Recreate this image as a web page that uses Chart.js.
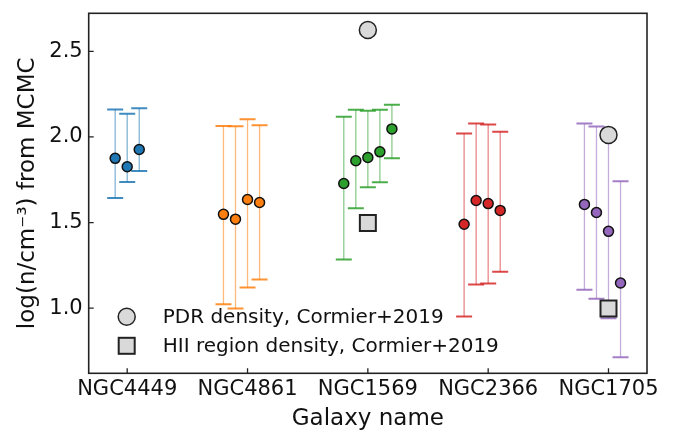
<!DOCTYPE html>
<html>
<head>
<meta charset="utf-8">
<script src="https://cdn.jsdelivr.net/npm/chart.js@4.4.1/dist/chart.umd.min.js"></script>
<style>
  body { margin: 0; background: #fff; }
  #chart { display: block; }
</style>
</head>
<body>
<canvas id="chart" width="673" height="441"></canvas>
<script>
// galaxies along x
const galaxies = ['NGC4449', 'NGC4861', 'NGC1569', 'NGC2366', 'NGC1705'];
const colors = ['#1f77b4', '#ff7f0e', '#2ca02c', '#d62728', '#9467bd'];

// MCMC densities per galaxy (log n), with upper / lower error bar ends
const ngc4449_val = [1.875, 1.826, 1.927];
const ngc4449_hi  = [2.161, 2.136, 2.167];
const ngc4449_lo  = [1.644, 1.737, 1.801];

const ngc4861_val = [1.548, 1.520, 1.635, 1.617];
const ngc4861_hi  = [2.064, 2.062, 2.103, 2.068];
const ngc4861_lo  = [1.023, 0.998, 1.121, 1.168];

const ngc1569_val = [1.728, 1.861, 1.880, 1.913, 2.047];
const ngc1569_hi  = [2.118, 2.159, 2.153, 2.159, 2.188];
const ngc1569_lo  = [1.284, 1.584, 1.706, 1.735, 1.876];

const ngc2366_val = [1.490, 1.629, 1.611, 1.571];
const ngc2366_hi  = [2.020, 2.078, 2.072, 2.031];
const ngc2366_lo  = [0.951, 1.139, 1.145, 1.213];

const ngc1705_val = [1.606, 1.559, 1.449, 1.147];
const ngc1705_hi  = [2.078, 2.061, 2.014, 1.741];
const ngc1705_lo  = [1.108, 1.056, 0.941, 0.713];

// Cormier+2019 comparison values (null = none)
const pdr_density = [null, null, 2.624, null, 2.012];
const hii_density = [null, null, 1.497, null, 0.999];

const yTicks = [1.0, 1.5, 2.0, 2.5];

const values = [ngc4449_val, ngc4861_val, ngc1569_val, ngc2366_val, ngc1705_val];
const highs  = [ngc4449_hi, ngc4861_hi, ngc1569_hi, ngc2366_hi, ngc1705_hi];
const lows   = [ngc4449_lo, ngc4861_lo, ngc1569_lo, ngc2366_lo, ngc1705_lo];

function rgba(hex, a) {
  const n = parseInt(hex.slice(1), 16);
  return 'rgba(' + (n >> 16) + ',' + ((n >> 8) & 255) + ',' + (n & 255) + ',' + a + ')';
}

// small sideways shift so points of one galaxy do not overlap
function xpos(g, i) {
  return g + (i - Math.floor(values[g].length / 2)) * 0.1;
}

const datasets = [];
values.forEach((vals, g) => {
  datasets.push({
    label: galaxies[g],
    data: vals.map((v, i) => ({ x: xpos(g, i), y: v, hi: highs[g][i], lo: lows[g][i] })),
    backgroundColor: colors[g],
    borderColor: '#111',
    borderWidth: 1.5,
    pointRadius: 5,
    errorColor: colors[g]
  });
});
datasets.push({
  label: 'HII region density, Cormier+2019',
  data: hii_density.map((v, g) => v === null ? null : { x: g, y: v }).filter(p => p),
  pointStyle: 'rect',
  backgroundColor: '#d9d9d9',
  borderColor: '#222',
  borderWidth: 2,
  pointRadius: 11.3
});
datasets.push({
  label: 'PDR density, Cormier+2019',
  data: pdr_density.map((v, g) => v === null ? null : { x: g, y: v }).filter(p => p),
  backgroundColor: '#d9d9d9',
  borderColor: '#222',
  borderWidth: 1.5,
  pointRadius: 8.5
});

const errorBars = {
  id: 'errorBars',
  beforeDatasetsDraw(chart) {
    const ctx = chart.ctx;
    const xs = chart.scales.x, ys = chart.scales.y;
    ctx.save();
    chart.data.datasets.forEach(ds => {
      if (!ds.errorColor) return;
      ds.data.forEach(p => {
        const px = xs.getPixelForValue(p.x);
        const top = ys.getPixelForValue(p.hi);
        const bot = ys.getPixelForValue(p.lo);
        ctx.strokeStyle = rgba(ds.errorColor, 0.55);
        ctx.lineWidth = 1.3;
        ctx.beginPath();
        ctx.moveTo(px, top);
        ctx.lineTo(px, bot);
        ctx.stroke();
        ctx.strokeStyle = rgba(ds.errorColor, 0.85);
        ctx.lineWidth = 2;
        ctx.beginPath();
        ctx.moveTo(px - 8, top); ctx.lineTo(px + 8, top);
        ctx.moveTo(px - 8, bot); ctx.lineTo(px + 8, bot);
        ctx.stroke();
      });
    });
    ctx.restore();
  }
};

const frame = {
  id: 'frame',
  afterDraw(chart) {
    const ctx = chart.ctx;
    const a = chart.chartArea;
    const xs = chart.scales.x, ys = chart.scales.y;
    ctx.save();
    ctx.strokeStyle = '#222';
    ctx.lineWidth = 1.3;
    ctx.beginPath();
    galaxies.forEach((g, i) => {
      const px = xs.getPixelForValue(i);
      ctx.moveTo(px, a.bottom); ctx.lineTo(px, a.bottom - 5);
    });
    yTicks.forEach(t => {
      const py = ys.getPixelForValue(t);
      ctx.moveTo(a.left, py); ctx.lineTo(a.left + 5, py);
    });
    ctx.stroke();
    ctx.lineWidth = 1.6;
    ctx.strokeRect(a.left, a.top, a.right - a.left, a.bottom - a.top);

    // legend, lower left inside the axes
    const lx = a.left + 38;
    ctx.fillStyle = '#d9d9d9';
    ctx.lineWidth = 1.5;
    ctx.beginPath();
    ctx.arc(lx, a.bottom - 56.5, 8.5, 0, Math.PI * 2);
    ctx.fill(); ctx.stroke();
    ctx.lineWidth = 2;
    ctx.fillRect(lx - 8, a.bottom - 35.5, 16, 16);
    ctx.strokeRect(lx - 8, a.bottom - 35.5, 16, 16);
    ctx.fillStyle = '#111';
    ctx.font = '20px "DejaVu Sans"';
    ctx.textBaseline = 'alphabetic';
    ctx.fillText('PDR density, Cormier+2019', lx + 36, a.bottom - 50);
    ctx.fillText('HII region density, Cormier+2019', lx + 36, a.bottom - 21);
    ctx.restore();
  }
};

new Chart(document.getElementById('chart'), {
  type: 'scatter',
  data: { datasets: datasets },
  options: {
    responsive: false,
    animation: false,
    devicePixelRatio: 1,
    layout: { padding: { top: 10, right: 26, left: 0, bottom: 0 } },
    plugins: { legend: { display: false }, tooltip: { enabled: false } },
    scales: {
      x: {
        type: 'linear',
        min: -0.32,
        max: 4.32,
        afterBuildTicks: s => { s.ticks = galaxies.map((g, i) => ({ value: i })); },
        afterFit: s => { s.height = 67.7; s.paddingLeft = 0; s.paddingRight = 0; },
        grid: { display: false, drawTicks: false },
        border: { display: false },
        ticks: {
          autoSkip: false,
          maxRotation: 0,
          padding: 4,
          color: '#111',
          font: { family: 'DejaVu Sans', size: 21 },
          callback: v => galaxies[v]
        },
        title: {
          display: true,
          text: 'Galaxy name',
          color: '#111',
          font: { family: 'DejaVu Sans', size: 23 },
          padding: { top: 0, bottom: 8 }
        }
      },
      y: {
        min: 0.62,
        max: 2.722,
        afterBuildTicks: s => { s.ticks = yTicks.map(t => ({ value: t })); },
        afterFit: s => { s.width = 88.7; s.paddingTop = 0; s.paddingBottom = 0; },
        grid: { display: false, drawTicks: false },
        border: { display: false },
        ticks: {
          padding: 6,
          color: '#111',
          font: { family: 'DejaVu Sans', size: 21 },
          callback: v => v.toFixed(1)
        },
        title: {
          display: true,
          text: 'log(n/cm⁻³) from MCMC',
          color: '#111',
          font: { family: 'DejaVu Sans', size: 23 },
          padding: { top: 14, bottom: 0 }
        }
      }
    }
  },
  plugins: [errorBars, frame]
});
</script>
</body>
</html>
